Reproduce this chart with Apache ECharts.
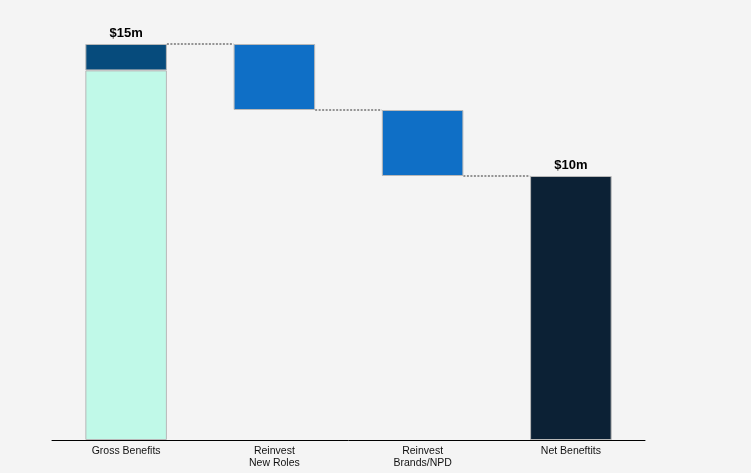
<!DOCTYPE html>
<html><head><meta charset="utf-8">
<script src="https://cdn.jsdelivr.net/npm/echarts@6/dist/echarts.min.js"></script>
<style>html,body{margin:0;padding:0;background:#f4f4f4;}#c{width:751px;height:473px;}</style>
</head><body><div id="c"></div>
<script>
const categories = ['Gross Benefits', 'Reinvest\nNew Roles', 'Reinvest\nBrands/NPD', 'Net Beneftits'];
const grossCore = [14, '-', '-', '-'];
const grossTop = [1, '-', '-', '-'];
const reinvest = ['-', 2.5, 2.5, '-'];
const netValue = ['-', '-', '-', 10];
const totalLabels = ['$15m', '', '', '$10m'];

// invisible base for the waterfall steps
const grossTotal = grossCore[0] + grossTop[0];
const base = [];
let running = grossTotal;
categories.forEach((c, i) => {
  if (reinvest[i] !== '-') { running -= reinvest[i]; base.push(running); }
  else base.push('-');
});
// connector levels: top of gross, then bottom of each reinvest step
const connectors = [];
let lvl = grossTotal;
connectors.push([0, lvl]);
for (let i = 1; i < categories.length - 1; i++) { lvl -= reinvest[i]; connectors.push([i, lvl]); }

const BW = 0.55;
const chart = echarts.init(document.getElementById('c'));
const border = {borderColor: '#b8b8b8', borderWidth: 1};
const totLabel = {show: true, position: 'top', distance: 4, color: '#000', fontWeight: 'bold', fontSize: 13, fontFamily: 'Liberation Sans, Arial',
  formatter: p => totalLabels[p.dataIndex]};
chart.setOption({
  backgroundColor: '#f4f4f4',
  animation: false,
  grid: {left: 52, right: 106, top: 44, bottom: 33},
  xAxis: {
    type: 'category', data: categories,
    axisLine: {lineStyle: {color: '#000', width: 1}},
    axisTick: {show: false},
    axisLabel: {color: '#111', fontSize: 10.5, fontFamily: 'Liberation Sans, Arial', margin: 5, lineHeight: 12, interval: 0}
  },
  yAxis: {type: 'value', min: 0, max: 15, show: false, splitLine: {show: false}},
  series: [
    {type: 'bar', stack: 'w', data: base, barWidth: BW * 100 + '%', itemStyle: {color: 'transparent'}, silent: true},
    {type: 'bar', stack: 'w', data: grossCore, itemStyle: Object.assign({color: '#c0f9e8'}, border)},
    {type: 'bar', stack: 'w', data: grossTop, itemStyle: Object.assign({color: '#064b7c'}, border), label: totLabel},
    {type: 'bar', stack: 'w', data: reinvest, itemStyle: Object.assign({color: '#0f6fc6'}, border)},
    {type: 'bar', stack: 'w', data: netValue, itemStyle: Object.assign({color: '#0c2135'}, border), label: totLabel},
    {type: 'custom', data: connectors, z: 1,
      renderItem: function (params, api) {
        const i = api.value(0), v = api.value(1);
        const p1 = api.coord([i, v]), p2 = api.coord([i + 1, v]);
        const half = api.size([1, 0])[0] * BW / 2;
        return {type: 'line', shape: {x1: p1[0] + half, y1: p1[1], x2: p2[0] - half, y2: p2[1]},
          style: {stroke: '#333', lineWidth: 1, lineDash: [2, 1.5]}};
      }}
  ]
});
</script></body></html>
